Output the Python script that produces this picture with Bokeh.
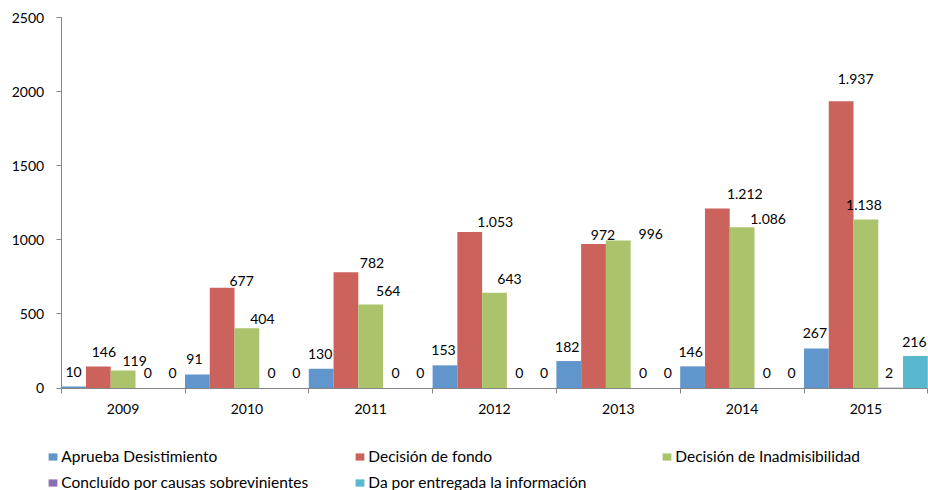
from bokeh.plotting import figure
from bokeh.models import ColumnDataSource, FixedTicker, Legend, LegendItem, Range1d, LinearAxis
from bokeh.transform import dodge
from bokeh.core.properties import value
from bokeh.embed import file_html
from bokeh.resources import INLINE

# ---- data ----
years = ["2009", "2010", "2011", "2012", "2013", "2014", "2015"]
series_names = [
    "Aprueba Desistimiento",
    "Decisión de fondo",
    "Decisión de Inadmisibilidad",
    "Concluído por causas sobrevinientes",
    "Da por entregada la información",
]
aprueba = [10, 91, 130, 153, 182, 146, 267]
fondo = [146, 677, 782, 1053, 972, 1212, 1937]
inadmisibilidad = [119, 404, 564, 643, 996, 1086, 1138]
concluido = [0, 0, 0, 0, 0, 0, 2]
entregada = [0, 0, 0, 0, 0, 0, 216]
y_ticks = [0, 500, 1000, 1500, 2000, 2500]
y_max = 2500

# ---- style ----
colors = ["#6196CC", "#CC625C", "#ABC36A", "#8C6FB0", "#57B8D0"]
AXIS = "#868686"
FONT = "Lato"
W, H = 928, 490
# plot-area placement on the canvas (px)
PA_LEFT, PA_RIGHT, PA_TOP, PA_BOTTOM = 60.7, 927.3, 17.3, 387.5
# label nudges in screen px (horizontal shift, rise above bar top)
label_dx = [
    [0, -3, -1, -1.5, -1.5, -2, -1.5],
    [5.5, 19.5, 26, 25.5, 9.5, 27.5, 14.5],
    [11.5, 15.5, 17.5, 15, 32.5, 26, -2],
    [0, 0, 0, 0, 0, 0, -1.5],
    [0, 0, 0, 0, 0, 0, -1],
]
label_rise = [
    [15.5, 16.5, 16, 16, 15, 15, 16],
    [15, 8, 10, 11, 10, 15.5, 23],
    [10, 10, 14, 15, 8, 9, 15],
    [16, 16, 16, 16, 16, 16, 16],
    [16, 16, 16, 16, 16, 16, 15.5],
]

series = [aprueba, fondo, inadmisibilidad, concluido, entregada]


def fmt(v):
    return f"{v:,}".replace(",", ".")


n = len(years)
data = {"x": [i + 0.5 for i in range(n)]}
for j, vals in enumerate(series):
    data[f"s{j}"] = vals
    data[f"l{j}"] = [fmt(v) for v in vals]
    data[f"dx{j}"] = label_dx[j]
    data[f"dy{j}"] = [-(r) + 1 for r in label_rise[j]]
src = ColumnDataSource(data)

# ranges extended so the frame covers the whole canvas (legend sits below the axis)
xs = n / (PA_RIGHT - PA_LEFT)
ys = y_max / (PA_BOTTOM - PA_TOP)
x_range = Range1d(-PA_LEFT * xs, n + (W - PA_RIGHT) * xs)
y_range = Range1d(-(H - PA_BOTTOM) * ys, y_max + PA_TOP * ys)

p = figure(
    width=W, height=H,
    x_range=x_range, y_range=y_range,
    output_backend="svg", toolbar_location=None,
    min_border=0, x_axis_location=None, y_axis_location=None,
)
p.outline_line_color = None
p.xgrid.visible = False
p.ygrid.visible = False
p.background_fill_color = "white"
p.border_fill_color = "white"

nser = len(series)
w = 1.0 / nser
items = []
for j in range(nser):
    off = -0.5 + w / 2 + j * w
    r = p.vbar(x=dodge("x", off, range=p.x_range), top=f"s{j}", width=w,
               source=src, fill_color=colors[j], line_color=None)
    items.append(LegendItem(label=series_names[j], renderers=[r]))
    p.text(x=dodge("x", off, range=p.x_range), y=f"s{j}", text=f"l{j}",
           x_offset=f"dx{j}", y_offset=f"dy{j}", source=src,
           text_font=value(FONT), text_font_size="14px", text_color="#000000",
           text_align="center", text_baseline="middle")

# x axis (drawn at y = 0)
xa = LinearAxis(fixed_location=0, bounds=(0, n))
xa.ticker = FixedTicker(ticks=[i + 0.5 for i in range(n)], minor_ticks=list(range(n + 1)))
xa.major_label_overrides = {i + 0.5: years[i] for i in range(n)}
xa.major_tick_line_color = None
xa.major_tick_out = 0
xa.major_tick_in = 0
xa.minor_tick_out = 5
xa.minor_tick_in = 0
xa.minor_tick_line_color = AXIS
xa.axis_line_color = AXIS
xa.major_label_standoff = 11
xa.major_label_text_font = FONT
xa.major_label_text_font_size = "14px"
xa.major_label_text_color = "#000000"
p.add_layout(xa, "below")

# y axis (drawn at x = 0)
ya = LinearAxis(fixed_location=0, bounds=(0, y_max))
ya.ticker = FixedTicker(ticks=y_ticks)
ya.major_tick_out = 5
ya.major_tick_in = 0
ya.minor_tick_line_color = None
ya.major_tick_line_color = AXIS
ya.axis_line_color = AXIS
ya.major_label_standoff = 12
ya.major_label_text_font = FONT
ya.major_label_text_font_size = "14px"
ya.major_label_text_color = "#000000"
p.add_layout(ya, "left")

legend = Legend(
    items=items, location=(47.3, -1.5), orientation="horizontal", ncols=3,
    glyph_width=11, glyph_height=9, label_standoff=3, label_width=286,
    label_height=19, spacing=7, padding=0, margin=0,
    border_line_color=None, background_fill_alpha=0,
    label_text_font=FONT, label_text_font_size="15.5px", label_text_color="#000000",
)
p.add_layout(legend, "center")

open("out.html", "w").write(file_html(p, INLINE))
